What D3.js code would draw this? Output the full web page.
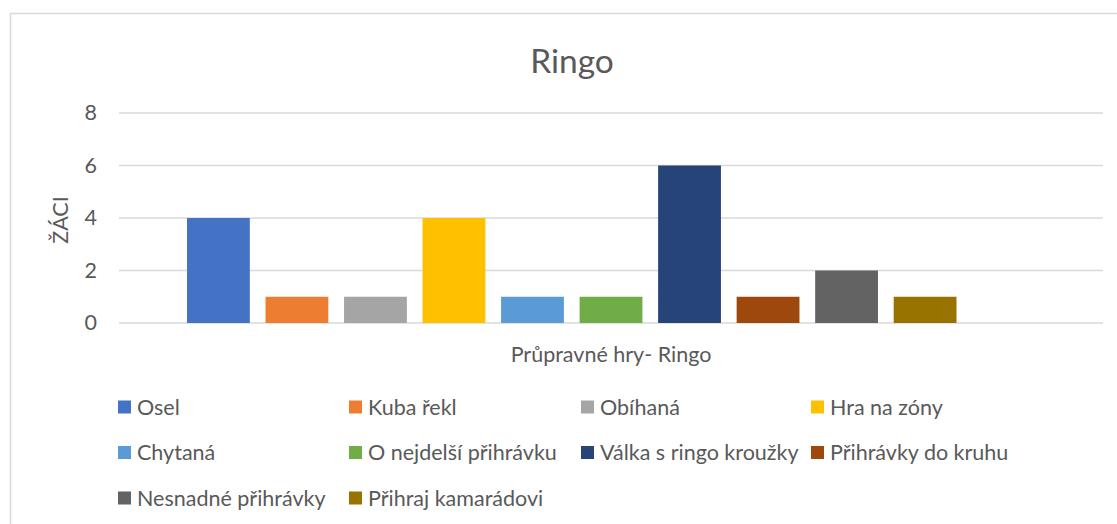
<!DOCTYPE html>
<html>
<head>
<meta charset="utf-8">
<script src="https://cdn.jsdelivr.net/npm/d3@7/dist/d3.min.js"></script>
<style>
html,body{margin:0;padding:0;background:#fff;}
svg{display:block;font-family:Lato,"Open Sans",sans-serif;}
</style>
</head>
<body>
<svg id="chart" width="1117" height="524"></svg>
<script>
const title = "Ringo";
const category = "Průpravné hry- Ringo";
const yTitle = "ŽÁCI";
const series = ["Osel","Kuba řekl","Obíhaná","Hra na zóny","Chytaná","O nejdelší přihrávku","Válka s ringo kroužky","Přihrávky do kruhu","Nesnadné přihrávky","Přihraj kamarádovi"];
const values = [4,1,1,4,1,1,6,1,2,1];
const colors = ["#4472C4","#ED7D31","#A5A5A5","#FFC000","#5B9BD5","#70AD47","#264478","#9E480E","#636363","#997300"];
const yTicks = [0,2,4,6,8];

const svg = d3.select("#chart");
const textColor = "#595959";
const fs = "21.5px";

// chart border
svg.append("rect").attr("x",10.5).attr("y",13.5).attr("width",1130).attr("height",540)
  .attr("fill","none").attr("stroke","#d9d9d9").attr("stroke-width",1.5);

const plotL = 119, plotR = 1103;
const y = d3.scaleLinear().domain([0,8]).range([323,113]);
const x = d3.scaleBand().domain(series).range([187,956.5]).paddingInner(0.2).paddingOuter(0);

// gridlines
svg.append("g").selectAll("line").data(yTicks).join("line")
  .attr("x1",plotL).attr("x2",plotR)
  .attr("y1",d=>y(d)).attr("y2",d=>y(d))
  .attr("stroke","#d9d9d9").attr("stroke-width",1.5);

// y axis labels
const yAxis = d3.axisLeft(y).tickValues(yTicks).tickSize(0).tickPadding(0);
const ga = svg.append("g").attr("transform","translate(97,0)").call(yAxis);
ga.select(".domain").remove();
ga.selectAll("text").attr("fill",textColor).style("font-size",fs).style("font-family","Lato,'Open Sans',sans-serif");

// bars
svg.append("g").selectAll("rect").data(series).join("rect")
  .attr("x",d=>x(d)).attr("width",x.bandwidth())
  .attr("y",(d,i)=>y(values[i])).attr("height",(d,i)=>y(0)-y(values[i]))
  .attr("fill",(d,i)=>colors[i]);

// title
svg.append("text").attr("x",572).attr("y",73).attr("text-anchor","middle")
  .attr("fill",textColor).style("font-size","33.5px").text(title);

// y title
svg.append("text").attr("transform","translate(68,220) rotate(-90)").attr("text-anchor","middle")
  .attr("fill",textColor).style("font-size",fs).text(yTitle);

// category label
svg.append("text").attr("x",(plotL+plotR)/2).attr("y",362).attr("text-anchor","middle")
  .attr("fill",textColor).style("font-size",fs).text(category);

// legend
const colX = [118,349,581,811];
const rowY = [407,452.5,498];
const lg = svg.append("g").selectAll("g").data(series).join("g")
  .attr("transform",(d,i)=>`translate(${colX[i%4]},${rowY[Math.floor(i/4)]})`);
lg.append("rect").attr("x",0).attr("y",-6.5).attr("width",13).attr("height",13).attr("fill",(d,i)=>colors[i]);
lg.append("text").attr("x",19).attr("y",7.5).attr("fill",textColor).style("font-size",fs).text(d=>d);
</script>
</body>
</html>
